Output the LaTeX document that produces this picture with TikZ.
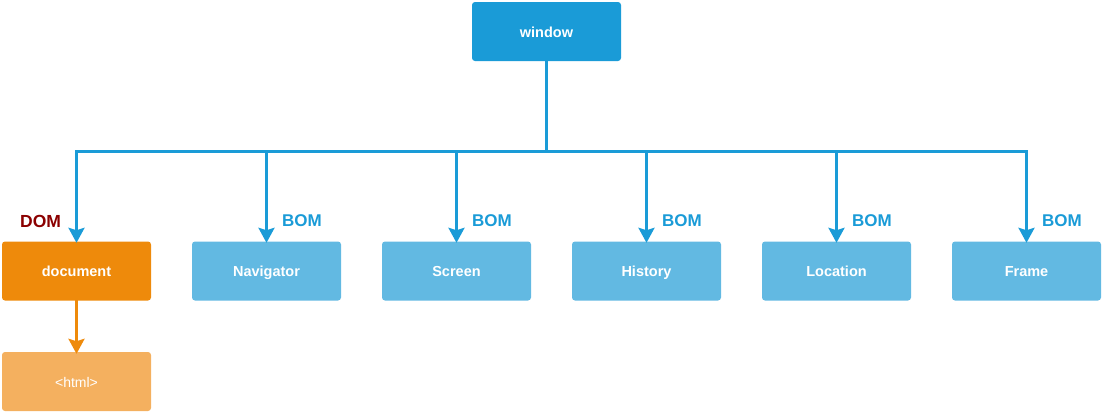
\documentclass[tikz,border=0pt]{standalone}
\usepackage{fontspec}
\setmainfont{Liberation Sans}
\usetikzlibrary{arrows.meta}
\definecolor{winblue}{HTML}{1A9BD7}
\definecolor{childblue}{HTML}{62B9E2}
\definecolor{docorange}{HTML}{EE8A0B}
\definecolor{htmlorange}{HTML}{F4B05F}
\definecolor{domred}{HTML}{8B0000}
\tikzset{
  box/.style={rectangle, rounded corners=3pt, minimum width=149pt, minimum height=59pt, inner sep=0pt, text height=12pt, text depth=0.5pt, text=white, font=\bfseries\fontsize{14.5}{16}\selectfont},
  winbox/.style={box, fill=winblue},
  childbox/.style={box, fill=childblue},
  docbox/.style={box, fill=docorange},
  htmlbox/.style={box, fill=htmlorange, font=\fontsize{14}{16}\selectfont},
  conn/.style={line width=3pt, draw=winblue},
  tip/.style={-{Stealth[width=16pt,length=15pt,inset=2.5pt]}},
  arr/.style={conn, tip},
  oarr/.style={line width=3pt, draw=docorange, tip},
  bomlbl/.style={text=winblue, font=\bfseries\fontsize{17}{19}\selectfont, inner sep=0pt},
  domlbl/.style={text=domred, font=\bfseries\fontsize{17.5}{19}\selectfont, inner sep=0pt},
}
\begin{document}
\begin{tikzpicture}[x=1pt,y=-1pt]
\useasboundingbox (0,0) rectangle (1103,413);
\node[winbox] (win) at (546.5,31.5) {window};
\node[docbox] (doc) at (76.5,271) {document};
\node[childbox] (nav) at (266.5,271) {Navigator};
\node[childbox] (scr) at (456.5,271) {Screen};
\node[childbox] (his) at (646.5,271) {History};
\node[childbox] (loc) at (836.5,271) {Location};
\node[childbox] (frm) at (1026.5,271) {Frame};
\node[htmlbox] (html) at (76.5,381.5) {<html>};
\coordinate (bus) at (546.5,151.5);
\draw[conn] (win.south) -- (bus);
\draw[arr] (bus) -| ([yshift=-1.5pt]doc.north);
\draw[arr] (bus) -| ([yshift=-1.5pt]frm.north);
\foreach \n in {nav,scr,his,loc}{
  \draw[arr] (\n.north |- bus) -- ([yshift=-1.5pt]\n.north);
}
\draw[oarr] ([yshift=2pt]doc.south) -- ([yshift=-2pt]html.north);
\node[domlbl, anchor=west] (dom) at (20,221) {DOM};
\foreach \n/\x in {nav/282,scr/472,his/662,loc/852,frm/1042}{
  \node[bomlbl, anchor=west] (b\n) at (\x,221) {BOM};
}
\end{tikzpicture}
\end{document}
